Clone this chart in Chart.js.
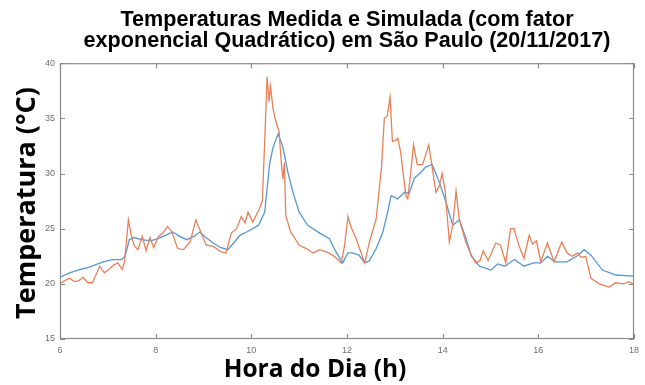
<!DOCTYPE html>
<html>
<head>
<meta charset="utf-8">
<script src="https://cdn.jsdelivr.net/npm/chart.js@4/dist/chart.umd.min.js"></script>
<style>
  html, body { margin: 0; padding: 0; background: #ffffff; }
  #wrap { width: 645px; height: 385px; position: relative; }
</style>
</head>
<body>
<div id="wrap"><canvas id="c" width="645" height="385"></canvas></div>
<script>
// ---- Data ----
const titleLines = ["Temperaturas Medida e Simulada (com fator", "exponencial Quadrático) em São Paulo (20/11/2017)"];
const xAxisTitle = "Hora do Dia (h)";
const yAxisTitle = "Temperatura (°C)";
const xTicks = [6, 8, 10, 12, 14, 16, 18];
const yTicks = [15, 20, 25, 30, 35, 40];

// Measured temperature (orange)
const hoursMedida = [6.00,6.10,6.20,6.30,6.40,6.48,6.58,6.68,6.83,6.93,7.02,7.12,7.21,7.30,7.35,7.43,7.50,7.56,7.63,7.72,7.80,7.88,7.96,8.06,8.15,8.25,8.34,8.46,8.58,8.72,8.84,8.95,9.06,9.20,9.37,9.47,9.58,9.69,9.79,9.87,9.93,10.03,10.17,10.23,10.28,10.33,10.37,10.40,10.45,10.49,10.58,10.63,10.66,10.69,10.72,10.82,10.90,11.00,11.15,11.29,11.43,11.57,11.70,11.81,11.88,11.95,12.02,12.08,12.19,12.28,12.37,12.47,12.61,12.72,12.78,12.84,12.90,12.95,13.02,13.06,13.12,13.23,13.27,13.33,13.39,13.47,13.58,13.71,13.78,13.86,13.93,13.99,14.05,14.14,14.21,14.28,14.35,14.49,14.60,14.69,14.78,14.85,14.95,15.11,15.21,15.32,15.42,15.49,15.60,15.70,15.81,15.88,15.96,16.05,16.19,16.33,16.49,16.60,16.71,16.82,16.89,16.99,17.10,17.27,17.48,17.62,17.78,17.90,18.00];
const tempMedida = [20.0,20.3,20.5,20.2,20.3,20.6,20.1,20.1,21.6,21.0,21.3,21.7,21.9,21.3,22.0,25.8,24.2,23.4,23.1,24.3,23.0,24.2,23.3,24.3,24.6,25.2,24.7,23.2,23.1,23.8,25.8,24.6,23.5,23.4,22.9,22.8,24.6,25.0,26.1,25.5,26.5,25.6,26.8,27.5,33.0,38.8,36.5,37.9,36.0,35.1,33.8,30.8,29.5,31.0,26.2,24.7,24.2,23.5,23.2,22.8,23.1,22.9,22.6,22.2,21.9,23.5,26.1,25.2,24.1,23.0,21.9,23.8,25.9,30.5,35.0,35.2,36.9,32.9,33.0,33.2,32.0,28.0,27.7,30.0,32.6,30.8,30.8,32.6,30.6,28.3,28.9,30.0,28.5,23.8,25.3,28.4,25.8,23.7,22.6,21.9,22.1,23.0,22.1,23.7,23.5,21.9,25.0,25.0,23.4,22.3,24.4,23.6,23.9,22.0,23.7,22.0,23.8,22.8,22.5,22.8,22.4,22.5,20.5,20.0,19.7,20.1,20.0,20.2,19.9];

// Simulated temperature (blue)
const hoursSimulada = [6.00,6.20,6.42,6.60,6.90,7.10,7.29,7.36,7.45,7.55,7.70,7.90,8.05,8.20,8.36,8.50,8.65,8.80,8.92,9.05,9.20,9.35,9.51,9.63,9.76,9.90,10.03,10.15,10.28,10.38,10.45,10.56,10.66,10.76,10.87,11.00,11.18,11.43,11.63,11.77,11.91,12.02,12.12,12.25,12.37,12.47,12.61,12.75,12.85,12.92,13.06,13.20,13.30,13.41,13.52,13.65,13.78,13.93,14.07,14.21,14.35,14.49,14.60,14.77,15.01,15.15,15.30,15.50,15.70,15.90,16.05,16.19,16.35,16.60,16.80,16.96,17.10,17.34,17.62,18.00];
const tempSimulada = [20.6,21.0,21.3,21.5,22.0,22.2,22.2,22.5,24.0,24.2,24.0,23.9,24.1,24.4,24.7,24.3,24.0,24.3,24.7,24.2,23.7,23.3,23.1,23.7,24.4,24.7,25.0,25.3,26.5,30.8,32.3,33.6,32.4,30.2,28.3,26.5,25.3,24.6,24.1,22.9,21.9,22.8,22.8,22.6,21.9,22.1,23.2,24.7,26.5,28.0,27.7,28.3,28.2,29.6,30.0,30.6,30.8,29.2,27.4,25.3,25.8,24.1,22.5,21.6,21.25,21.8,21.6,22.2,21.6,21.9,21.9,22.5,22.0,22.0,22.5,23.1,22.6,21.25,20.8,20.7];

// ---- Styling ----
const axisColor = '#8a8a8a';
const tickLabelColor = '#6f6f6f';

const toPoints = (xs, ys) => xs.map((x, i) => ({ x: x, y: ys[i] }));

// Box, inward ticks (MATLAB style) and axis titles, positioned through the chart scales
const matlabFrame = {
  id: 'matlabFrame',
  afterDraw(chart) {
    const ctx = chart.ctx;
    const a = chart.chartArea;
    const xs = chart.scales.x, ys = chart.scales.y;
    ctx.save();
    ctx.strokeStyle = axisColor;
    ctx.lineWidth = 1.2;
    ctx.strokeRect(a.left + 0.5, a.top + 0.5, a.right - a.left - 1, a.bottom - a.top - 1);
    const L = 5;
    ctx.beginPath();
    xTicks.forEach(v => {
      const px = Math.round(xs.getPixelForValue(v)) + 0.5;
      ctx.moveTo(px, a.bottom); ctx.lineTo(px, a.bottom - L);
      ctx.moveTo(px, a.top); ctx.lineTo(px, a.top + L);
    });
    yTicks.forEach(v => {
      const py = Math.round(ys.getPixelForValue(v)) + 0.5;
      ctx.moveTo(a.left, py); ctx.lineTo(a.left + L, py);
      ctx.moveTo(a.right, py); ctx.lineTo(a.right - L, py);
    });
    ctx.stroke();

    // Axis titles
    ctx.fillStyle = '#000000';
    ctx.textAlign = 'center';
    ctx.textBaseline = 'middle';
    ctx.font = 'bold 24.5px "Open Sans", "Noto Sans", sans-serif';
    ctx.fillText(xAxisTitle, 315, 370);
    ctx.save();
    ctx.translate(27, 203);
    ctx.rotate(-Math.PI / 2);
    ctx.font = 'bold 27px "Open Sans", "Noto Sans", sans-serif';
    ctx.fillText(yAxisTitle, 0, 0);
    ctx.restore();
    ctx.restore();
  }
};

new Chart(document.getElementById('c'), {
  type: 'line',
  data: {
    datasets: [
      {
        label: 'Medida',
        data: toPoints(hoursMedida, tempMedida),
        borderColor: '#e8805a',
        borderWidth: 1.3,
        pointRadius: 0,
        tension: 0,
        fill: false
      },
      {
        label: 'Simulada',
        data: toPoints(hoursSimulada, tempSimulada),
        borderColor: '#5598d2',
        borderWidth: 1.3,
        pointRadius: 0,
        tension: 0,
        fill: false
      }
    ]
  },
  options: {
    responsive: false,
    animation: false,
    devicePixelRatio: 1,
    layout: { padding: { left: 0, right: 10, top: 0, bottom: 0 } },
    plugins: {
      legend: { display: false },
      tooltip: { enabled: false },
      title: {
        display: true,
        fullSize: false,
        text: titleLines,
        color: '#000000',
        font: { family: '"Liberation Sans", Arial, sans-serif', size: 21.6, weight: 'bold', lineHeight: 1.0 },
        padding: { top: 9, bottom: 11 }
      }
    },
    scales: {
      x: {
        type: 'linear',
        min: 6,
        max: 18,
        afterBuildTicks: (s) => { s.ticks = xTicks.map(v => ({ value: v })); },
        afterFit: (s) => { s.height = 46; },
        grid: { display: false, drawTicks: false },
        border: { display: false },
        ticks: {
          color: tickLabelColor,
          font: { family: '"Liberation Sans", Arial, sans-serif', size: 9 },
          padding: 6,
          maxRotation: 0
        }
      },
      y: {
        type: 'linear',
        min: 15,
        max: 40,
        afterBuildTicks: (s) => { s.ticks = yTicks.map(v => ({ value: v })); },
        afterFit: (s) => { s.width = 60; },
        grid: { display: false, drawTicks: false },
        border: { display: false },
        ticks: {
          color: tickLabelColor,
          font: { family: '"Liberation Sans", Arial, sans-serif', size: 9 },
          padding: 5
        }
      }
    }
  },
  plugins: [matlabFrame]
});
</script>
</body>
</html>
